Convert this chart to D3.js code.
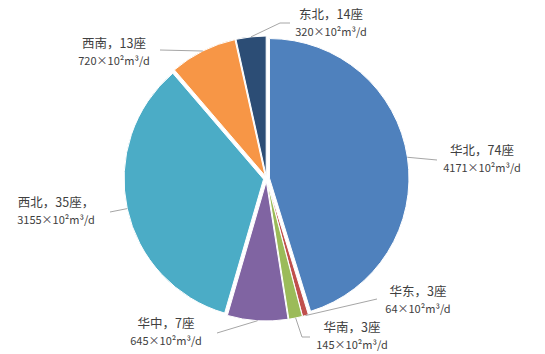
<html>
<head>
<meta charset="utf-8">
<script src="https://d3js.org/d3.v7.min.js"></script>
<style>
  body { margin: 0; background: #fff; }
  text { font-family: "Noto Sans CJK SC", "Noto Sans", sans-serif; fill: #404040; }
</style>
</head>
<body>
<svg width="545" height="354"></svg>
<script>
// data, clockwise from 12 o'clock
var regions  = ["华北", "华东", "华南", "华中", "西北", "西南", "东北"];
var counts   = [74, 3, 3, 7, 35, 13, 14];
var capacity = [4171, 64, 145, 645, 3155, 720, 320];   // ×10²m³/d
var colors   = ["#4f81bd", "#c0504d", "#9bbb59", "#8064a2", "#4bacc6", "#f79646", "#2c4d75"];
var countSuffix = ["", "", "", "", "，", "", ""];

// label placement (text centre x, first line y) and leader bends
var labelAt = [[482, 151], [418, 292], [352, 328], [166, 324], [56, 203], [114, 44], [331, 15]];
var leaderTo = [
  [[437, 160]],
  [[377, 299]],
  [[302, 337], [310, 337]],
  [[217, 333]],
  [[110, 212]],
  [[160, 50]],
  [[280, 23], [290, 23]]
];

var cx = 266.5, cy = 178.5, r = 139.5, explode = 3;

var svg = d3.select("svg");
var g = svg.append("g").attr("transform", "translate(" + cx + "," + cy + ")");

var pie = d3.pie().sort(null).value(function(d) { return d; });
var arcs = pie(capacity);
var arc = d3.arc().innerRadius(0).outerRadius(r);

function offset(a, dist) {
  var m = (a.startAngle + a.endAngle) / 2;
  return [Math.sin(m) * dist, -Math.cos(m) * dist];
}

g.selectAll("path.slice")
  .data(arcs)
  .enter()
  .append("path")
    .attr("class", "slice")
    .attr("d", arc)
    .attr("transform", function(d) { var o = offset(d, explode); return "translate(" + o[0] + "," + o[1] + ")"; })
    .style("fill", function(d, i) { return colors[i]; })
    .style("stroke", "#fff")
    .style("stroke-width", 1);

// leader lines
var line = d3.line();
svg.selectAll("path.leader")
  .data(arcs)
  .enter()
  .append("path")
    .attr("class", "leader")
    .attr("d", function(d, i) {
      var o = offset(d, explode + r);
      var pts = [[cx + o[0], cy + o[1]]].concat(leaderTo[i]);
      return line(pts);
    })
    .style("fill", "none")
    .style("stroke", "#a6a6a6")
    .style("stroke-width", 1);

// labels
var lab = svg.selectAll("g.label")
  .data(regions)
  .enter()
  .append("g")
    .attr("class", "label")
    .attr("transform", function(d, i) { return "translate(" + labelAt[i][0] + "," + labelAt[i][1] + ")"; });

lab.append("text")
  .attr("text-anchor", "middle")
  .attr("dy", "0.35em")
  .style("font-size", "12.5px")
  .text(function(d, i) { return d + "，" + counts[i] + "座" + countSuffix[i]; });

lab.append("text")
  .attr("text-anchor", "middle")
  .attr("y", 17.3)
  .attr("dy", "0.35em")
  .style("font-size", "11px")
  .text(function(d, i) { return capacity[i] + "×10²m³/d"; });
</script>
</body>
</html>
